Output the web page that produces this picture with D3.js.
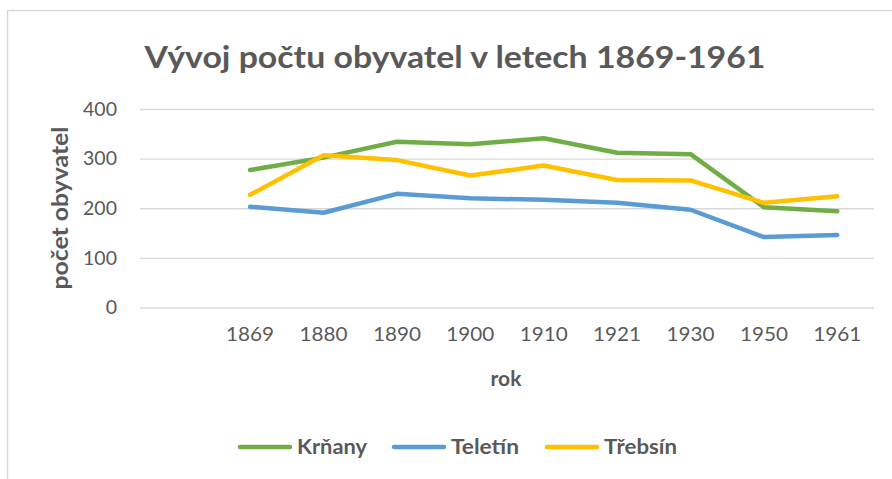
<!DOCTYPE html>
<html>
<head>
<meta charset="utf-8">
<script src="https://cdn.jsdelivr.net/npm/d3@7"></script>
<style>
  html, body { margin: 0; padding: 0; background: #fff; }
  svg text { font-family: Lato, "Open Sans", sans-serif; fill: #595959; }
</style>
</head>
<body>
<svg id="chart" width="892" height="479"></svg>
<script>
const categories = ["", "1869", "1880", "1890", "1900", "1910", "1921", "1930", "1950", "1961"];
const years = ["1869", "1880", "1890", "1900", "1910", "1921", "1930", "1950", "1961"];
const krnany  = [277, 302, 334, 329, 341, 312, 309, 202, 194];
const teletin = [203, 191, 229, 220, 217, 211, 197, 142, 146];
const trebsin = [227, 307, 297, 266, 286, 257, 256, 211, 224];
const seriesNames = ["Krňany", "Teletín", "Třebsín"];
const seriesColors = ["#70AD47", "#5B9BD5", "#FFC000"];
const yTicks = [0, 100, 200, 300, 400];
const title = "Vývoj počtu obyvatel v letech 1869-1961";
const xTitle = "rok";
const yTitle = "počet obyvatel";

const series = [krnany, teletin, trebsin].map((vals, i) => ({
  name: seriesNames[i], color: seriesColors[i],
  points: years.map((y, j) => ({ year: y, value: vals[j] }))
}));

const svg = d3.select("#chart");

// outer chart border
svg.append("path")
  .attr("d", "M7.5,479 L7.5,10.5 L892,10.5")
  .attr("fill", "none").attr("stroke", "#D9D9D9").attr("stroke-width", 1.5);

const plot = { left: 140, right: 874, top: 109, bottom: 307.5 };

const x = d3.scaleBand().domain(categories).range([plot.left, plot.right]).padding(0);
const y = d3.scaleLinear().domain([0, 400]).range([plot.bottom, plot.top]);

// gridlines
const yAxis = d3.axisLeft(y).tickValues(yTicks).tickSize(-(plot.right - plot.left)).tickPadding(23);
const gy = svg.append("g").attr("transform", `translate(${plot.left},0)`).call(yAxis);
gy.select(".domain").remove();
gy.selectAll(".tick line").attr("stroke", "#D9D9D9").attr("stroke-width", 1.3);
gy.selectAll(".tick text").style("font-size", "19.5px").attr("fill", "#595959");

// x axis labels
const xAxis = d3.axisBottom(x).tickSize(0).tickPadding(20);
const gx = svg.append("g").attr("transform", `translate(0,${plot.bottom})`).call(xAxis);
gx.select(".domain").remove();
gx.selectAll(".tick text").style("font-size", "19.5px").attr("fill", "#595959")
  .attr("textLength", d => d ? 48 : null).attr("lengthAdjust", "spacingAndGlyphs");

// lines
const line = d3.line().x(d => x(d.year) + x.bandwidth() / 2).y(d => y(d.value));
svg.append("g").selectAll("path").data(series).join("path")
  .attr("d", d => line(d.points))
  .attr("fill", "none")
  .attr("stroke", d => d.color)
  .attr("stroke-width", 4.5)
  .attr("stroke-linejoin", "round")
  .attr("stroke-linecap", "round");

// title
svg.append("text").attr("x", 455).attr("y", 68).attr("text-anchor", "middle")
  .style("font-size", "31px").style("font-weight", "bold")
  .attr("textLength", 621).attr("lengthAdjust", "spacingAndGlyphs").text(title);

// axis titles
svg.append("text").attr("x", 506).attr("y", 386).attr("text-anchor", "middle")
  .style("font-size", "21px").style("font-weight", "bold").text(xTitle);
svg.append("text").attr("transform", "translate(68,208) rotate(-90)").attr("text-anchor", "middle")
  .style("font-size", "22px").style("font-weight", "bold")
  .attr("textLength", 163).attr("lengthAdjust", "spacingAndGlyphs").text(yTitle);

// legend
const legendX = [240, 394, 547];
const legendW = [70, 68, 73];
const lg = svg.append("g").selectAll("g").data(series).join("g")
  .attr("transform", (d, i) => `translate(${legendX[i]},447)`);
lg.append("line").attr("x1", 0).attr("x2", 50).attr("y1", 0).attr("y2", 0)
  .attr("stroke", d => d.color).attr("stroke-width", 4.5).attr("stroke-linecap", "round");
lg.append("text").attr("x", 57).attr("y", 7).style("font-size", "21px").style("font-weight", "bold")
  .attr("textLength", (d, i) => legendW[i]).attr("lengthAdjust", "spacingAndGlyphs")
  .text(d => d.name);
</script>
</body>
</html>
